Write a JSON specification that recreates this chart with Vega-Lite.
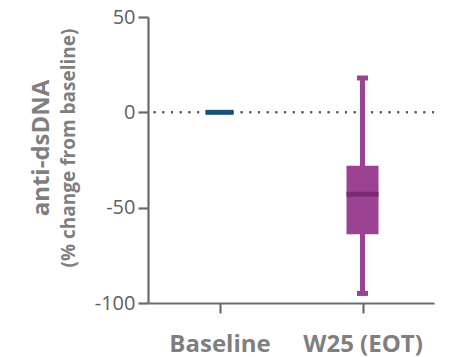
{
  "$schema": "https://vega.github.io/schema/vega-lite/v6.json",
  "autosize": "none",
  "padding": {"left": 148, "top": 17, "right": 28, "bottom": 54},
  "width": 286,
  "height": 286,
  "background": "white",
  "config": {
    "view": {"stroke": null},
    "font": "Open Sans",
    "axis": {"grid": false, "domainColor": "#6b6b6b", "domainWidth": 2.2, "tickColor": "#6b6b6b", "tickWidth": 2.2, "tickSize": 10}
  },
  "title": {
    "text": "anti-dsDNA",
    "subtitle": "(% change from baseline)",
    "orient": "left",
    "anchor": "middle",
    "fontSize": 24,
    "fontWeight": "bold",
    "color": "#7f7f7f",
    "subtitleFontSize": 19,
    "subtitleFontWeight": "bold",
    "subtitleColor": "#7f7f7f",
    "subtitlePadding": 6,
    "offset": 15,
    "dx": 12
  },
  "data": {
    "values": [
      {"group": "Baseline", "low": 0, "q1": 0, "median": 0, "q3": 0, "high": 0},
      {"group": "W25 (EOT)", "low": -95, "q1": -28, "median": -43, "q3": -64, "high": 18}
    ]
  },
  "encoding": {
    "x": {
      "field": "group",
      "type": "nominal",
      "scale": {"type": "point", "padding": 0.5},
      "axis": {"title": null, "labelAngle": 0, "labelFontSize": 24, "labelFontWeight": "bold", "labelColor": "#7f7f7f", "labelPadding": 19}
    }
  },
  "layer": [
    {
      "mark": {"type": "rule", "strokeDash": [2, 6.7], "strokeWidth": 2, "color": "#555555"},
      "encoding": {"x": null, "y": {"datum": 0, "type": "quantitative", "scale": {"domain": [-100, 50], "nice": false, "zero": false},
          "axis": {"title": null, "values": [-100, -50, 0, 50], "labelFontSize": 20, "labelColor": "#606060", "labelPadding": 3,
            "labelExpr": "datum.value < 0 ? '-' + abs(datum.value) : '' + datum.value"}}}
    },
    {
      "transform": [{"filter": "datum.group === 'W25 (EOT)'"}],
      "mark": {"type": "rule", "strokeWidth": 5, "color": "#9b4392"},
      "encoding": {
        "y": {"field": "low", "type": "quantitative", "scale": {"domain": [-100, 50], "nice": false, "zero": false}},
        "y2": {"field": "high"}
      }
    },
    {
      "transform": [{"filter": "datum.group === 'W25 (EOT)'"}],
      "mark": {"type": "bar", "width": 32, "color": "#9b4392"},
      "encoding": {
        "y": {"field": "q1", "type": "quantitative", "scale": {"domain": [-100, 50], "nice": false, "zero": false}},
        "y2": {"field": "q3"}
      }
    },
    {
      "transform": [{"filter": "datum.group === 'W25 (EOT)'"}],
      "mark": {"type": "tick", "size": 32, "thickness": 5, "color": "#7b2a70", "opacity": 1},
      "encoding": {"y": {"field": "median", "type": "quantitative", "scale": {"domain": [-100, 50], "nice": false, "zero": false}}}
    },
    {
      "transform": [{"filter": "datum.group === 'W25 (EOT)'"}],
      "mark": {"type": "tick", "size": 11, "thickness": 5, "color": "#9b4392", "opacity": 1},
      "encoding": {"y": {"field": "high", "type": "quantitative", "scale": {"domain": [-100, 50], "nice": false, "zero": false}}}
    },
    {
      "transform": [{"filter": "datum.group === 'W25 (EOT)'"}],
      "mark": {"type": "tick", "size": 11, "thickness": 5, "color": "#9b4392", "opacity": 1},
      "encoding": {"y": {"field": "low", "type": "quantitative", "scale": {"domain": [-100, 50], "nice": false, "zero": false}}}
    },
    {
      "transform": [{"filter": "datum.group === 'Baseline'"}],
      "mark": {"type": "tick", "size": 28, "thickness": 5, "color": "#1c4f75", "opacity": 1},
      "encoding": {"y": {"field": "median", "type": "quantitative", "scale": {"domain": [-100, 50], "nice": false, "zero": false}}}
    }
  ]
}
